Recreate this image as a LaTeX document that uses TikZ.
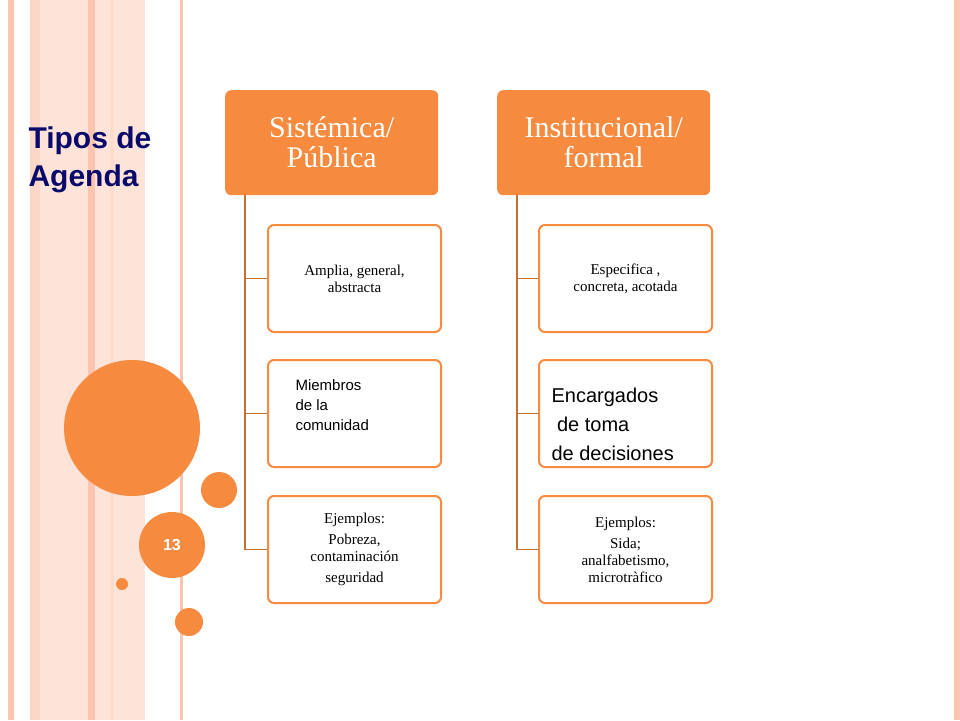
\documentclass[tikz,border=0pt]{standalone}
\usepackage{fontspec}
\setmainfont{Liberation Serif}
\newfontfamily\arialf{Liberation Sans}
\definecolor{org}{HTML}{F68B3F}
\definecolor{stripe}{HTML}{FBC4AE}
\definecolor{stripel}{HTML}{FDE3D8}
\definecolor{navy}{HTML}{0A0A6A}
\tikzset{
 head/.style={fill=org,rounded corners=6pt,minimum width=213pt,minimum height=105pt,anchor=north west,text=white,font=\fontsize{30}{30}\selectfont,align=center,inner sep=0pt},
 child/.style={draw=org,line width=2pt,fill=white,rounded corners=6pt,minimum width=173pt,minimum height=107pt,anchor=north west,font=\fontsize{15}{17}\selectfont,align=center,inner sep=0pt},
 conn/.style={draw=org!80!black,line width=1.5pt},
 dot/.style={circle,fill=org,inner sep=0pt}
}
\begin{document}
\begin{tikzpicture}[x=1pt,y=-1pt]
\useasboundingbox (0,0) rectangle (960,720);
\fill[white] (0,0) rectangle (960,720);
% stripes
\fill[stripe] (8,0) rectangle (14,720);
\fill[stripel] (30,0) rectangle (145,720);
\fill[stripe!70] (30,0) rectangle (40,720);
\fill[stripe] (88,0) rectangle (95,720);
\fill[stripe!60] (110,0) rectangle (114,720);
\fill[stripe] (180,0) rectangle (183,720);
\fill[stripe] (954,0) rectangle (960,720);
% title
\node[anchor=west,text=navy,font=\arialf\bfseries\fontsize{30}{38}\selectfont,align=left] (title) at (25,160) {Tipos de\\Agenda};
% circles
\node[dot,minimum size=136pt] (c1) at (132,428) {};
\node[dot,minimum size=36pt] (c2) at (219,490) {};
\node[dot,minimum size=66pt,text=white,font=\arialf\bfseries\fontsize{16}{16}\selectfont] (c3) at (172,545) {13};
\node[dot,minimum size=12pt] (c4) at (122,584) {};
\node[dot,minimum size=28pt] (c5) at (189,622) {};
% left column
\node[head] (h1) at (225,90) {Sistémica/\\Pública};
\node[child] (a1) at (267,224) {Amplia, general,\\abstracta};
\node[child] (a2) at (267,359) {};
\node[anchor=west,font=\arialf\fontsize{15}{20}\selectfont,align=left] (a2t) at (292,405) {Miembros\\de la\\comunidad};
\node[child] (a3) at (267,495) {Ejemplos:\\[4pt]Pobreza,\\contaminación\\[4pt]seguridad};
\coordinate (v1) at (245,195);
\draw[conn] (v1) |- (a3.west);
\draw[conn] (v1 |- a1.west) -- (a1.west);
\draw[conn] (v1 |- a2.west) -- (a2.west);
% right column
\node[head] (h2) at (497,90) {Institucional/\\formal};
\node[child] (b1) at (538,224) {Especifica ,\\concreta, acotada};
\node[child] (b2) at (538,359) {};
\node[anchor=west,font=\arialf\fontsize{20}{29}\selectfont,align=left] (b2t) at (548,424) {Encargados\\\ de toma\\de decisiones};
\node[child] (b3) at (538,495) {Ejemplos:\\[4pt]Sida;\\analfabetismo,\\microtràfico};
\coordinate (v2) at (517,195);
\draw[conn] (v2) |- (b3.west);
\draw[conn] (v2 |- b1.west) -- (b1.west);
\draw[conn] (v2 |- b2.west) -- (b2.west);
\end{tikzpicture}
\end{document}
